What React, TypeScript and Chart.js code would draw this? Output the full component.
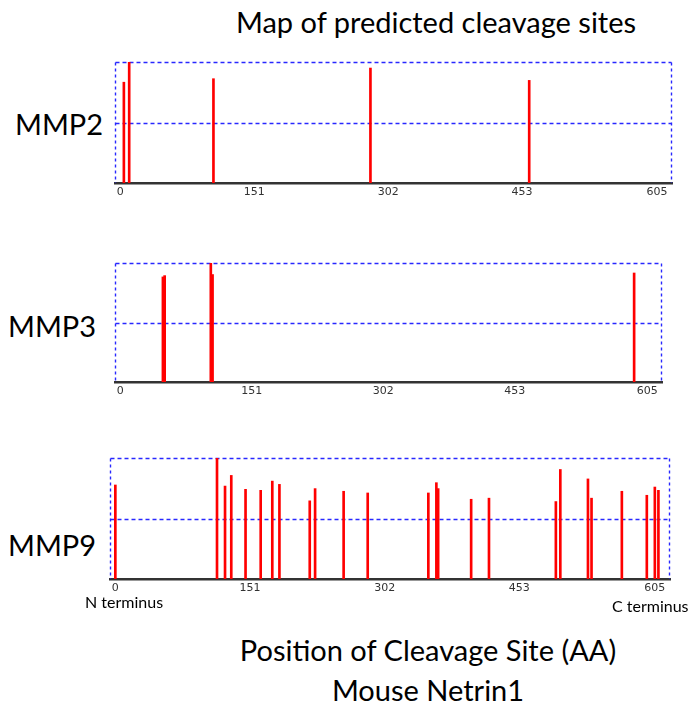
import React, { useEffect, useRef } from "react";
import { Chart, registerables } from "chart.js";

Chart.register(...registerables);

// ---- data ----
const tickValues = [0, 151, 302, 453, 605];

const mmp2Sites = [4, 10, 105, 282, 461];
const mmp2Scores = [0.833, 1.0, 0.862, 0.95, 0.848];

const mmp3Sites = [49, 51, 104, 106, 590];
const mmp3Scores = [0.883, 0.894, 1.0, 0.903, 0.916];

const mmp9Sites = [0, 114, 123, 130, 146, 163, 176, 184, 218, 224, 256, 283, 351, 360, 362, 399, 419, 494, 499, 530, 534, 568, 596, 605, 609];
const mmp9Scores = [0.777, 1.0, 0.768, 0.856, 0.741, 0.733, 0.809, 0.782, 0.646, 0.747, 0.725, 0.711, 0.711, 0.796, 0.747, 0.659, 0.668, 0.64, 0.905, 0.827, 0.668, 0.725, 0.692, 0.76, 0.733];

const xMin = -6;
const xMax = 622;

const FONT = "Lato, 'Open Sans', sans-serif";

const framePlugin = {
  id: "dashedFrame",
  beforeDatasetsDraw(chart: any) {
    const { ctx, chartArea, scales } = chart;
    const l = Math.round(chartArea.left) + 0.5;
    const r = Math.round(chartArea.right) - 0.5;
    const t = Math.round(chartArea.top) + 0.5;
    const b = chartArea.bottom;
    const mid = Math.round(scales.y.getPixelForValue(0.5)) + 0.5;
    ctx.save();
    ctx.strokeStyle = "rgb(40,40,255)";
    ctx.lineWidth = 1.4;
    ctx.setLineDash([4, 3]);
    ctx.beginPath();
    ctx.moveTo(l, t);
    ctx.lineTo(r, t);
    ctx.stroke();
    ctx.beginPath();
    ctx.moveTo(l, mid);
    ctx.lineTo(r, mid);
    ctx.stroke();
    ctx.setLineDash([3, 3]);
    ctx.beginPath();
    ctx.moveTo(l, t);
    ctx.lineTo(l, b);
    ctx.stroke();
    ctx.beginPath();
    ctx.moveTo(r, t);
    ctx.lineTo(r, b);
    ctx.stroke();
    ctx.restore();
  },
};

type PanelProps = {
  sites: number[];
  scores: number[];
  left: number;
  top: number;
  width: number;
  height: number;
};

function Panel({ sites, scores, left, top, width, height }: PanelProps) {
  const ref = useRef<HTMLCanvasElement>(null);
  useEffect(() => {
    const chart = new Chart(ref.current as HTMLCanvasElement, {
      type: "bar",
      data: {
        datasets: [
          {
            data: sites.map((s, i) => ({ x: s, y: scores[i] })),
            backgroundColor: "#ff0000",
            borderWidth: 0,
            barThickness: 2,
          } as any,
        ],
      },
      options: {
        responsive: false,
        animation: false,
        devicePixelRatio: 1,
        layout: { padding: { left: 10, right: 10, top: 5, bottom: 0 } },
        plugins: { legend: { display: false }, tooltip: { enabled: false } },
        scales: {
          x: {
            type: "linear",
            offset: false,
            min: xMin,
            max: xMax,
            grid: { display: false, drawTicks: false, offset: false },
            border: { display: true, color: "#333333", width: 2.5 },
            afterBuildTicks: (s: any) => {
              s.ticks = tickValues.map((v) => ({ value: v }));
            },
            afterFit: (s: any) => {
              s.height = 20;
            },
            ticks: {
              autoSkip: false,
              maxRotation: 0,
              padding: 3,
              color: "#333333",
              font: { family: "'DejaVu Sans', Verdana, sans-serif", size: 11 },
              callback: (v: any) => String(v),
            },
          },
          y: { display: false, min: 0, max: 1, grid: { display: false } },
        },
      } as any,
      plugins: [framePlugin],
    });
    return () => chart.destroy();
  }, []);
  return (
    <canvas
      ref={ref}
      width={width}
      height={height}
      style={{ position: "absolute", left, top, width, height }}
    />
  );
}

function Label({ text, x, cy, size, align }: { text: string; x: number; cy: number; size: number; align: "left" | "center" }) {
  const lh = size * 1.2;
  const style: React.CSSProperties = {
    position: "absolute",
    top: cy - lh / 2,
    fontFamily: FONT,
    fontSize: size,
    lineHeight: `${lh}px`,
    color: "#000",
    whiteSpace: "nowrap",
  };
  if (align === "center") {
    style.left = x - 400;
    style.width = 800;
    style.textAlign = "center";
  } else {
    style.left = x;
  }
  return <div style={style}>{text}</div>;
}

export default function App() {
  return (
    <div
      style={{
        position: "fixed",
        left: 0,
        top: 0,
        width: 692,
        height: 704,
        overflow: "hidden",
        background: "#fff",
      }}
    >
      <Label text="Map of predicted cleavage sites" x={436} cy={22} size={29} align="center" />
      <Label text="MMP2" x={15} cy={124} size={29} align="left" />
      <Label text="MMP3" x={8} cy={326} size={29} align="left" />
      <Label text="MMP9" x={8} cy={545} size={29} align="left" />
      <Panel sites={mmp2Sites} scores={mmp2Scores} left={105} top={57} width={577} height={146} />
      <Panel sites={mmp3Sites} scores={mmp3Scores} left={105} top={258} width={567} height={144} />
      <Panel sites={mmp9Sites} scores={mmp9Scores} left={100} top={453} width={580} height={146} />
      <Label text="N terminus" x={85} cy={602} size={16} align="left" />
      <Label text="C terminus" x={612} cy={606} size={16} align="left" />
      <Label text="Position of Cleavage Site (AA)" x={428} cy={650} size={29} align="center" />
      <Label text="Mouse Netrin1" x={428} cy={690} size={29} align="center" />
    </div>
  );
}
